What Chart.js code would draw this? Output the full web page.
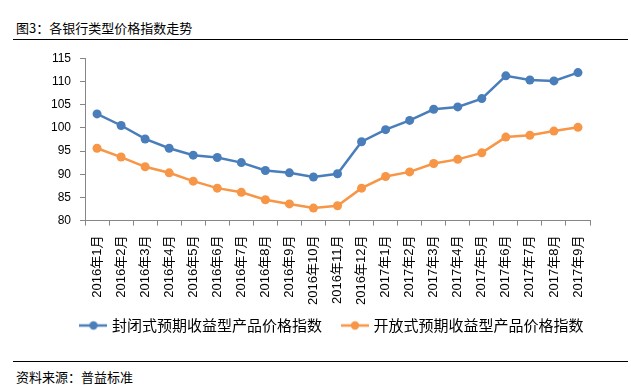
<!DOCTYPE html>
<html>
<head>
<meta charset="utf-8">
<script src="https://cdn.jsdelivr.net/npm/chart.js@4.4.0/dist/chart.umd.min.js"></script>
<style>
  body { margin: 0; width: 631px; height: 387px; background: #fff; position: relative; overflow: hidden;
         font-family: "Noto Sans CJK SC", sans-serif; color: #000; }
  .title { position: absolute; left: 16px; top: 19px; font-size: 13px; line-height: 18px; }
  .rule { position: absolute; left: 13px; width: 615px; height: 1px; background: #000; }
  .src { position: absolute; left: 16px; top: 368px; font-size: 13px; line-height: 18px; }
  #chart { position: absolute; left: 0; top: 42px; }
</style>
</head>
<body>
<div class="title">图3：各银行类型价格指数走势</div>
<div class="rule" style="top:39px"></div>
<canvas id="chart" width="631" height="320"></canvas>
<div class="rule" style="top:361px"></div>
<div class="src">资料来源：普益标准</div>
<script>
var months = ['2016年1月','2016年2月','2016年3月','2016年4月','2016年5月','2016年6月','2016年7月',
              '2016年8月','2016年9月','2016年10月','2016年11月','2016年12月','2017年1月','2017年2月',
              '2017年3月','2017年4月','2017年5月','2017年6月','2017年7月','2017年8月','2017年9月'];
var closedIndex = [103.0, 100.5, 97.6, 95.6, 94.1, 93.6, 92.5, 90.8, 90.3, 89.4, 90.1,
                   97.0, 99.6, 101.6, 104.0, 104.5, 106.3, 111.2, 110.3, 110.1, 111.9];
var openIndex = [95.6, 93.7, 91.6, 90.3, 88.5, 87.0, 86.1, 84.5, 83.6, 82.7, 83.2,
                 87.0, 89.5, 90.5, 92.3, 93.2, 94.6, 98.0, 98.4, 99.3, 100.1];
var seriesNames = ['封闭式预期收益型产品价格指数', '开放式预期收益型产品价格指数'];
var yTicks = [80, 85, 90, 95, 100, 105, 110, 115];

var blue = '#4a7ebb';
var orange = '#f79646';
var axisGray = '#868686';

// small line+dot marker for the legend
function legendMarker(color) {
    var c = document.createElement('canvas');
    c.width = 28; c.height = 12;
    var g = c.getContext('2d');
    g.strokeStyle = color; g.lineWidth = 2.5;
    g.beginPath(); g.moveTo(0, 6); g.lineTo(28, 6); g.stroke();
    g.fillStyle = color;
    g.beginPath(); g.arc(14, 6, 4.2, 0, Math.PI * 2); g.fill();
    return c;
}
var markers = [legendMarker(blue), legendMarker(orange)];

// the legend sits a bit right of / above where chart.js would put it
var legendNudge = {
    id: 'legendNudge',
    afterLayout: function (chart) {
        var l = chart.legend;
        l.left += 17; l.right += 17;
        l.top -= 19; l.bottom -= 19;
    }
};

Chart.defaults.font.family = "'Liberation Sans', 'Noto Sans CJK SC', sans-serif";
Chart.defaults.color = '#000';

var ctx = document.getElementById('chart');
var chart = new Chart(ctx, {
    type: 'line',
    data: {
        labels: months,
        datasets: [{
            label: seriesNames[0],
            data: closedIndex,
            borderColor: blue,
            backgroundColor: blue,
            borderWidth: 2.5,
            pointRadius: 4.5,
            pointBorderWidth: 0,
            tension: 0
        }, {
            label: seriesNames[1],
            data: openIndex,
            borderColor: orange,
            backgroundColor: orange,
            borderWidth: 2.5,
            pointRadius: 4.5,
            pointBorderWidth: 0,
            tension: 0
        }]
    },
    plugins: [legendNudge],
    options: {
        responsive: false,
        animation: false,
        layout: { padding: { left: 42, right: 41, top: 16, bottom: 0 } },
        scales: {
            x: {
                offset: true,
                border: { color: axisGray },
                grid: { offset: true, drawOnChartArea: false, tickLength: 5, color: axisGray },
                ticks: { minRotation: 90, maxRotation: 90, autoSkip: false, padding: 10,
                         font: { size: 13 } }
            },
            y: {
                min: 80,
                max: 115,
                afterBuildTicks: function (axis) {
                    axis.ticks = yTicks.map(function (v) { return { value: v }; });
                },
                border: { color: axisGray },
                grid: { drawOnChartArea: false, tickLength: 5, color: axisGray },
                ticks: { padding: 9, font: { size: 12 } }
            }
        },
        plugins: {
            tooltip: { enabled: false },
            legend: {
                position: 'bottom',
                labels: {
                    usePointStyle: true,
                    pointStyleWidth: 22,
                    padding: 22,
                    font: { size: 15, family: "'Noto Sans CJK SC', sans-serif" },
                    generateLabels: function (chart) {
                        var items = Chart.defaults.plugins.legend.labels.generateLabels(chart);
                        items.forEach(function (it) { it.pointStyle = markers[it.datasetIndex]; });
                        return items;
                    }
                }
            }
        }
    }
});
</script>
</body>
</html>
